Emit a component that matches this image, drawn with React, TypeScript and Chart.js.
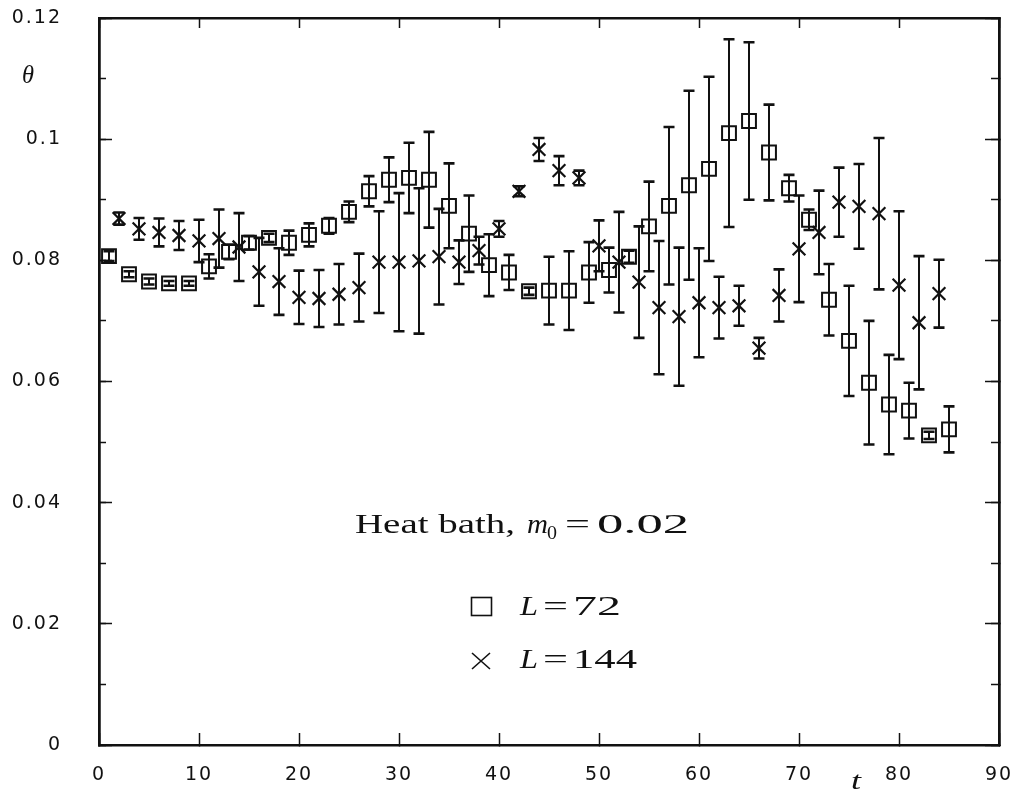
import { useEffect, useRef } from "react";
import { Chart, registerables } from "chart.js";

Chart.register(...registerables);

// ---- data ----
const tL72 = [1, 3, 5, 7, 9, 11, 13, 15, 17, 19, 21, 23, 25, 27, 29, 31, 33, 35, 37, 39, 41, 43, 45, 47, 49, 51, 53, 55, 57, 59, 61, 63, 65, 67, 69, 71, 73, 75, 77, 79, 81, 83, 85];
const thetaL72 = [0.0807, 0.0777, 0.0765, 0.0762, 0.0762, 0.079, 0.0814, 0.0829, 0.0837, 0.0829, 0.0842, 0.0857, 0.088, 0.0914, 0.0933, 0.0936, 0.0933, 0.089, 0.0844, 0.0792, 0.078, 0.0749, 0.075, 0.075, 0.078, 0.0784, 0.0806, 0.0856, 0.089, 0.0924, 0.0951, 0.101, 0.103, 0.0978, 0.0919, 0.0867, 0.0735, 0.0667, 0.0598, 0.0562, 0.0552, 0.0511, 0.0521];
const errL72 = [0.0008, 0.0005, 0.0005, 0.0004, 0.0004, 0.002, 0.0012, 0.0011, 0.0007, 0.002, 0.0019, 0.0013, 0.0017, 0.0025, 0.0037, 0.0058, 0.0079, 0.007, 0.0063, 0.0051, 0.0029, 0.0006, 0.0056, 0.0065, 0.005, 0.0037, 0.001, 0.0074, 0.013, 0.0156, 0.0152, 0.0155, 0.013, 0.0079, 0.0022, 0.0017, 0.0059, 0.0091, 0.0102, 0.0082, 0.0046, 0.0006, 0.0038];

const tL144 = [2, 4, 6, 8, 10, 12, 14, 16, 18, 20, 22, 24, 26, 28, 30, 32, 34, 36, 38, 40, 42, 44, 46, 48, 50, 52, 54, 56, 58, 60, 62, 64, 66, 68, 70, 72, 74, 76, 78, 80, 82, 84];
const thetaL144 = [0.0869, 0.0852, 0.0846, 0.0841, 0.0832, 0.0836, 0.0822, 0.0781, 0.0765, 0.0739, 0.0737, 0.0744, 0.0755, 0.0797, 0.0797, 0.0799, 0.0806, 0.0797, 0.0816, 0.0852, 0.0914, 0.0983, 0.0948, 0.0936, 0.0824, 0.0797, 0.0764, 0.0722, 0.0707, 0.073, 0.0722, 0.0725, 0.0655, 0.0742, 0.0819, 0.0846, 0.0896, 0.0889, 0.0877, 0.0759, 0.0697, 0.0745];
const errL144 = [0.001, 0.0018, 0.0023, 0.0024, 0.0035, 0.0048, 0.0056, 0.0056, 0.0055, 0.0044, 0.0047, 0.005, 0.0056, 0.0084, 0.0114, 0.012, 0.0079, 0.0036, 0.0023, 0.0013, 0.0008, 0.0019, 0.0024, 0.0012, 0.0042, 0.0083, 0.0092, 0.011, 0.0114, 0.009, 0.0051, 0.0033, 0.0017, 0.0043, 0.0088, 0.0069, 0.0057, 0.007, 0.0125, 0.0122, 0.011, 0.0056];

const yTickLabels = ["0", "0.02", "0.04", "0.06", "0.08", "0.1", "0.12"];
const xTickLabels = ["0", "10", "20", "30", "40", "50", "60", "70", "80", "90"];

const titleMain = "Heat bath,";
const titleVar = "m";
const titleSub = "0";
const titleValue = "0.02";
const legendVar = "L";
const legendL72 = "72";
const legendL144 = "144";
const yAxisLabel = "θ";
const xAxisLabel = "t";

const INK = "#111";

function fitText(ctx: CanvasRenderingContext2D, text: string, x: number, baseline: number, width: number, font: string) {
  ctx.save();
  ctx.font = font;
  ctx.textAlign = "left";
  ctx.textBaseline = "alphabetic";
  const w = ctx.measureText(text).width || 1;
  ctx.translate(x, baseline);
  ctx.scale(width / w, 1);
  ctx.fillStyle = INK;
  ctx.fillText(text, 0, 0);
  ctx.restore();
}

const spacingPlugin = {
  id: "spacing",
  beforeDraw(chart: any) {
    (chart.ctx as any).letterSpacing = "2px";
  },
  afterDraw(chart: any) {
    (chart.ctx as any).letterSpacing = "0px";
  },
};

const errorBarPlugin = {
  id: "errorBars",
  afterDatasetsDraw(chart: any) {
    const ctx: CanvasRenderingContext2D = chart.ctx;
    const xs = chart.scales.x;
    const ys = chart.scales.y;
    const series: [number[], number[], number[]][] = [
      [tL72, thetaL72, errL72],
      [tL144, thetaL144, errL144],
    ];
    ctx.save();
    ctx.strokeStyle = INK;
    ctx.lineCap = "butt";
    for (const [ts, vs, es] of series) {
      ts.forEach((t, i) => {
        const px = xs.getPixelForValue(t);
        const top = ys.getPixelForValue(vs[i] + es[i]);
        const bot = ys.getPixelForValue(vs[i] - es[i]);
        ctx.lineWidth = 2;
        ctx.beginPath();
        ctx.moveTo(px, top);
        ctx.lineTo(px, bot);
        ctx.stroke();
        ctx.lineWidth = 2.6;
        ctx.beginPath();
        ctx.moveTo(px - 5.5, top);
        ctx.lineTo(px + 5.5, top);
        ctx.moveTo(px - 5.5, bot);
        ctx.lineTo(px + 5.5, bot);
        ctx.stroke();
      });
    }
    ctx.restore();
  },
};

const textPlugin = {
  id: "texts",
  afterDraw(chart: any) {
    const ctx: CanvasRenderingContext2D = chart.ctx;
    (ctx as any).letterSpacing = "0px";
    const roman = '27px "Liberation Serif"';
    const italic = 'italic 27px "Liberation Serif"';
    // axis symbols
    fitText(ctx, yAxisLabel, 22, 83, 12, 'italic 26px "Liberation Serif"');
    fitText(ctx, xAxisLabel, 851, 789, 10, 'italic 26px "Liberation Serif"');
    // title
    fitText(ctx, titleMain, 355, 533, 160, roman);
    fitText(ctx, titleVar, 527, 533, 21, italic);
    fitText(ctx, titleSub, 547, 539, 10, '18px "Liberation Serif"');
    fitText(ctx, "=", 565, 533, 25, roman);
    fitText(ctx, titleValue, 597, 533, 92, roman);
    // legend
    ctx.save();
    ctx.strokeStyle = INK;
    ctx.lineWidth = 1.6;
    ctx.strokeRect(471.5, 597.5, 20, 18);
    ctx.beginPath();
    ctx.moveTo(472, 653);
    ctx.lineTo(490, 669);
    ctx.moveTo(490, 653);
    ctx.lineTo(472, 669);
    ctx.stroke();
    ctx.restore();
    fitText(ctx, legendVar, 520, 615, 18, italic);
    fitText(ctx, "=", 543, 615, 25, roman);
    fitText(ctx, legendL72, 573, 615, 48, roman);
    fitText(ctx, legendVar, 520, 668, 18, italic);
    fitText(ctx, "=", 543, 668, 25, roman);
    fitText(ctx, legendL144, 573, 668, 64, roman);
  },
};

function fixSize(w: number | null, h: number | null) {
  return (s: any) => {
    if (w !== null) s.width = w;
    if (h !== null) s.height = h;
    s.paddingTop = 0;
    s.paddingBottom = 0;
    s.paddingLeft = 0;
    s.paddingRight = 0;
  };
}

export default function App() {
  const ref = useRef<HTMLCanvasElement>(null);
  useEffect(() => {
    document.body.style.margin = "0";
    const border = { display: true, color: INK, width: 2.5 };
    const tickFont = { family: '"DejaVu Sans", "Liberation Sans", sans-serif', size: 19 };
    const chart = new Chart(ref.current as HTMLCanvasElement, {
      type: "scatter",
      data: {
        datasets: [
          {
            label: "L=72",
            data: tL72.map((t, i) => ({ x: t, y: thetaL72[i] })),
            pointStyle: "rect",
            pointRadius: 9.8,
            pointHoverRadius: 9.8,
            borderWidth: 2,
            borderColor: INK,
            backgroundColor: "rgba(0,0,0,0)",
            showLine: false,
            xAxisID: "x",
            yAxisID: "y",
          },
          {
            label: "L=144",
            data: tL144.map((t, i) => ({ x: t, y: thetaL144[i] })),
            pointStyle: "crossRot",
            pointRadius: 9,
            pointHoverRadius: 9,
            borderWidth: 2.2,
            borderColor: INK,
            backgroundColor: "rgba(0,0,0,0)",
            showLine: false,
            xAxisID: "x",
            yAxisID: "y",
          },
        ],
      },
      options: {
        responsive: false,
        devicePixelRatio: 1,
        animation: false,
        layout: { padding: 0 },
        plugins: { legend: { display: false }, tooltip: { enabled: false } },
        events: [],
        scales: {
          x: {
            type: "linear",
            position: "bottom",
            min: 0,
            max: 90,
            ticks: {
              stepSize: 10,
              color: INK,
              font: tickFont,
              padding: 31,
              maxRotation: 0,
              autoSkip: false,
              callback: (_v: any, i: number) => xTickLabels[i],
            },
            grid: { drawOnChartArea: false, tickLength: -12, tickWidth: 1.5, tickColor: INK },
            border,
            afterFit: fixSize(null, 48),
          },
          xTop: {
            type: "linear",
            position: "top",
            min: 0,
            max: 90,
            ticks: { stepSize: 10, display: false },
            grid: { drawOnChartArea: false, tickLength: -10, tickWidth: 1.5, tickColor: INK },
            border,
            afterFit: fixSize(null, 18),
          },
          y: {
            type: "linear",
            position: "left",
            weight: 1,
            min: 0,
            max: 0.12,
            ticks: {
              stepSize: 0.02,
              color: INK,
              font: tickFont,
              padding: 50,
              callback: (_v: any, i: number) => yTickLabels[i],
            },
            grid: { drawOnChartArea: false, tickLength: -13, tickWidth: 1.5, tickColor: INK },
            border,
            afterFit: fixSize(99, null),
          },
          yMinor: {
            type: "linear",
            position: "left",
            weight: 0,
            min: 0,
            max: 0.12,
            ticks: { stepSize: 0.01, display: false },
            grid: { drawOnChartArea: false, tickLength: -7, tickWidth: 1.5, tickColor: INK },
            border,
            afterFit: fixSize(0, null),
          },
          yRight: {
            type: "linear",
            position: "right",
            weight: 1,
            min: 0,
            max: 0.12,
            ticks: { stepSize: 0.02, display: false },
            grid: { drawOnChartArea: false, tickLength: -14, tickWidth: 1.5, tickColor: INK },
            border,
            afterFit: fixSize(14, null),
          },
          yRightMinor: {
            type: "linear",
            position: "right",
            weight: 0,
            min: 0,
            max: 0.12,
            ticks: { stepSize: 0.01, display: false },
            grid: { drawOnChartArea: false, tickLength: -8, tickWidth: 1.5, tickColor: INK },
            border,
            afterFit: fixSize(0, null),
          },
        },
      } as any,
      plugins: [spacingPlugin, errorBarPlugin, textPlugin],
    });
    return () => chart.destroy();
  }, []);
  return (
    <div style={{ position: "absolute", left: 0, top: 0, width: 1013, height: 793, background: "#fff" }}>
      <canvas ref={ref} width={1013} height={793} style={{ display: "block", width: 1013, height: 793 }} />
    </div>
  );
}
